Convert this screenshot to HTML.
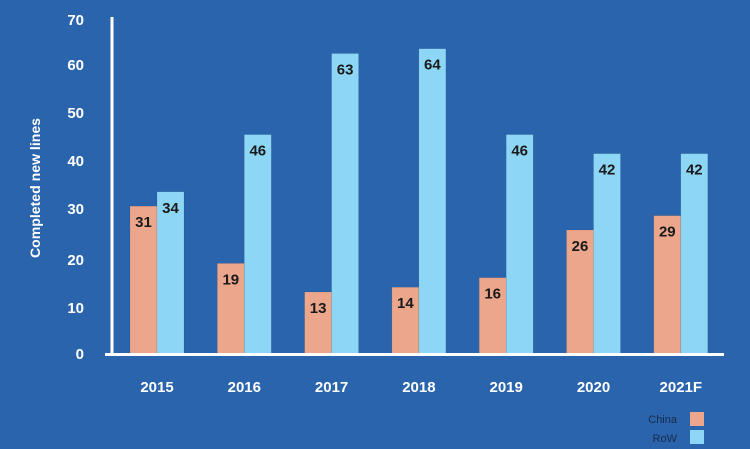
<!DOCTYPE html><html><head><style>body{margin:0;background:#2964ad}svg{display:block}text{font-family:"Liberation Sans",sans-serif;font-weight:bold}</style></head><body>
<svg width="750" height="449" viewBox="0 0 750 449">
<rect width="750" height="449" fill="#2964ad"/>
<g id="bars"></g>
<line x1="112" y1="17" x2="112" y2="356" stroke="#fff" stroke-width="3"/>
<line x1="105" y1="354.5" x2="724" y2="354.5" stroke="#fff" stroke-width="3"/>
<g fill="#fff" font-size="15" text-anchor="end">
<text x="84" y="25">70</text><text x="84" y="70">60</text><text x="84" y="118">50</text><text x="84" y="166">40</text><text x="84" y="214">30</text><text x="84" y="265">20</text><text x="84" y="313">10</text><text x="84" y="359">0</text>
</g>
<text transform="translate(40,188) rotate(-90)" fill="#fff" font-size="14" text-anchor="middle" textLength="140" lengthAdjust="spacingAndGlyphs">Completed new lines</text>
<g fill="#fff" font-size="15" text-anchor="middle" id="xl"></g>
<text x="677" y="423" fill="#1a2a4a" font-size="11" font-weight="normal" text-anchor="end" style="font-weight:normal">China</text>
<text x="677" y="442" fill="#1a2a4a" font-size="11" style="font-weight:normal" text-anchor="end">RoW</text>
<rect x="690" y="412" width="14" height="14" fill="#eba68c"/>
<rect x="690" y="430" width="14" height="14" fill="#8dd6f6"/>
</svg>
<script>
var d=[["2015",31,34],["2016",19,46],["2017",13,63],["2018",14,64],["2019",16,46],["2020",26,42],["2021F",29,42]];
var ns="http://www.w3.org/2000/svg",b=document.getElementById("bars"),xl=document.getElementById("xl");
function el(t,a,p,tx){var e=document.createElementNS(ns,t);for(var k in a)e.setAttribute(k,a[k]);if(tx)e.textContent=tx;p.appendChild(e);return e;}
d.forEach(function(r,i){var c=157+i*87.3;
[[r[1],c-27,"#eba68c"],[r[2],c,"#8dd6f6"]].forEach(function(s){var h=s[0]*4.77,y=354-h;
el("rect",{x:s[1],y:y,width:27,height:h,fill:s[2],stroke:"rgba(0,0,0,0.15)","stroke-width":0.5},b);
el("text",{x:s[1]+13.5,y:y+21,"text-anchor":"middle","font-size":15,fill:"#1a1a1a"},b,String(s[0]));});
el("text",{x:c,y:392},xl,r[0]);});
</script>
</body></html>
